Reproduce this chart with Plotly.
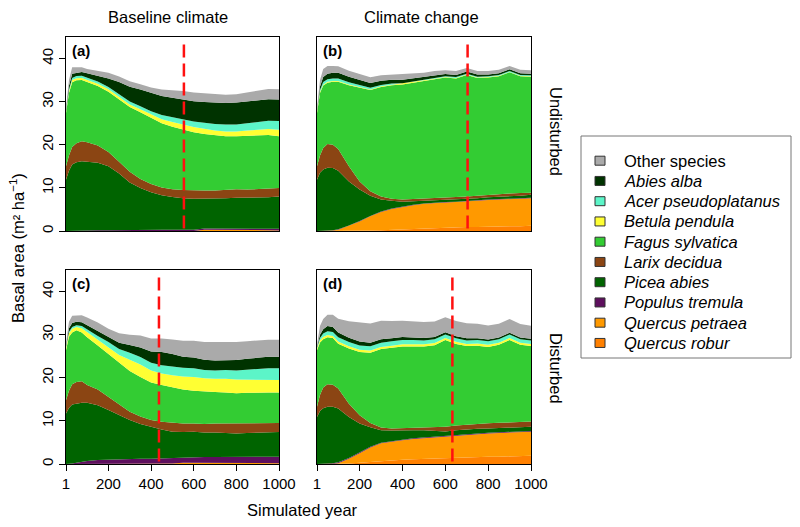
import plotly.graph_objects as go

# The page shows the figure with the browser's 8px body margin,
# so the figure is drawn 8px smaller and all pixel positions shifted by 8.
OFF = 8
W, H = 800 - OFF, 527 - OFF

YEARS = [1, 15, 30, 50, 75, 100, 150, 200, 250, 300, 350, 400, 450, 500,
         550, 600, 650, 700, 750, 800, 850, 900, 950, 1000]

SPECIES = ["Quercus robur", "Quercus petraea", "Populus tremula", "Picea abies",
           "Larix decidua", "Fagus sylvatica", "Betula pendula",
           "Acer pseudoplatanus", "Abies alba", "Other species"]
COLORS = ["#FF8000", "#FF9900", "#5E0F5E", "#006400", "#8B4513",
          "#33CC33", "#FFFF33", "#5CF5C8", "#003300", "#AAAAAA"]

# ---- (a) Baseline climate, undisturbed ----
QR_a = [0] * 24
QP_a = [0] * 16 + [0.3, 0.3, 0.3, 0.3, 0.3, 0.3, 0.2, 0.1]
PT_a = [0, 0, 0, 0.05, 0.1, 0.1, 0.15, 0.2, 0.25, 0.25, 0.25, 0.3, 0.3, 0.3, 0.3, 0.3, 0.3, 0.3, 0.3, 0.3, 0.3, 0.3, 0.35, 0.4]
PA_a = [11.9, 14.0, 15.4, 15.9, 16.1, 16.0, 15.7, 14.8, 13.1, 11.0, 9.7, 8.7, 8.0, 7.6, 7.3, 7.2, 6.9, 6.9, 7.0, 7.1, 7.1, 7.2, 7.3, 7.5]
LD_a = [3.1, 3.5, 4.1, 4.4, 4.6, 4.5, 4.0, 3.3, 2.7, 2.5, 2.1, 1.9, 1.8, 1.8, 1.9, 1.9, 1.9, 1.9, 1.9, 2.0, 1.9, 1.9, 2.0, 2.0]
FS_a = [12.4, 14.5, 15.0, 14.6, 14.2, 14.0, 13.8, 14.0, 14.5, 15.0, 15.5, 15.4, 14.9, 14.5, 14.0, 13.5, 13.1, 12.8, 12.5, 12.3, 12.5, 12.5, 12.4, 12.0]
BP_a = [0.2, 0.4, 0.5, 0.5, 0.5, 0.5, 0.5, 0.6, 0.6, 0.6, 0.7, 0.7, 0.9, 1.1, 1.2, 1.2, 1.2, 1.1, 1.1, 1.1, 1.2, 1.3, 1.4, 1.5]
AP_a = [0.2, 0.4, 0.5, 0.5, 0.5, 0.5, 0.5, 0.5, 0.6, 0.7, 0.7, 0.8, 1.0, 1.1, 1.2, 1.3, 1.4, 1.5, 1.6, 1.6, 1.7, 1.8, 1.9, 2.0]
AA_a = [0.3, 0.9, 1.0, 0.8, 0.9, 1.0, 1.4, 2.0, 2.8, 3.4, 3.9, 4.3, 4.4, 4.5, 4.6, 4.7, 4.8, 5.0, 5.0, 5.1, 5.0, 4.9, 5.0, 5.0]
OS_a = [0.4, 1.3, 1.5, 1.3, 1.1, 1.0, 1.1, 1.3, 1.3, 1.3, 1.2, 1.2, 1.5, 1.8, 2.0, 2.0, 2.0, 2.0, 1.9, 1.9, 2.1, 2.3, 2.4, 2.4]

# ---- (b) Climate change, undisturbed ----
QR_b = [0, 0, 0, 0, 0, 0, 0, 0.05, 0.1, 0.2, 0.3, 0.4, 0.5, 0.6, 0.7, 0.8, 0.8, 0.9, 0.9, 1.0, 1.0, 1.1, 1.1, 1.2]
QP_b = [0, 0, 0, 0, 0.1, 0.3, 1.2, 2.15, 3.3, 4.2, 4.8, 5.2, 5.5, 5.7, 5.8, 5.8, 5.9, 6.0, 6.1, 6.2, 6.3, 6.3, 6.4, 6.4]
PT_b = [0, 0, 0.05, 0.1, 0.1, 0.1, 0.1, 0.1, 0.1, 0.1, 0.1, 0.1, 0.1, 0.1, 0.1, 0.1, 0.1, 0.1, 0.1, 0.1, 0.1, 0.1, 0.1, 0.1]
PA_b = [11.9, 13.5, 14.2, 14.6, 14.4, 13.6, 10.2, 7.3, 4.7, 2.8, 1.8, 1.1, 0.8, 0.6, 0.5, 0.6, 0.6, 0.5, 0.5, 0.5, 0.5, 0.6, 0.6, 0.7]
LD_b = [3.1, 4.0, 5.0, 5.5, 5.4, 5.0, 3.5, 1.9, 1.0, 0.7, 0.5, 0.5, 0.5, 0.5, 0.5, 0.5, 0.5, 0.5, 0.6, 0.6, 0.6, 0.6, 0.6, 0.5]
FS_b = [12.4, 14.5, 14.5, 14.2, 14.6, 15.6, 18.8, 21.7, 23.5, 25.4, 26.3, 26.7, 27.0, 27.3, 27.6, 27.8, 27.5, 28.2, 27.3, 27.2, 27.4, 28.1, 27.1, 26.9]
BP_b = [0.3, 0.3, 0.2, 0.2, 0.2, 0.2, 0.2, 0.2, 0.15, 0.15, 0.1, 0.1, 0.1, 0.1, 0.1, 0.1, 0.1, 0.1, 0.1, 0.1, 0.1, 0.1, 0.1, 0.1]
AP_b = [0.2, 0.4, 0.6, 0.6, 0.6, 0.6, 0.5, 0.5, 0.4, 0.3, 0.3, 0.2, 0.2, 0.2, 0.2, 0.2, 0.2, 0.2, 0.2, 0.2, 0.2, 0.2, 0.2, 0.2]
AA_b = [0.2, 0.8, 1.2, 1.3, 1.3, 1.3, 1.3, 1.2, 1.1, 1.0, 0.9, 0.8, 0.7, 0.6, 0.6, 0.5, 0.5, 0.5, 0.5, 0.4, 0.4, 0.4, 0.4, 0.4]
OS_b = [0.5, 1.5, 1.8, 1.8, 1.6, 1.5, 1.4, 1.3, 1.3, 1.3, 1.2, 1.2, 1.1, 1.0, 1.0, 0.9, 0.9, 0.8, 0.8, 0.8, 0.8, 0.8, 0.8, 0.8]

# ---- (c) Baseline climate, disturbed ----
QR_c = [0] * 24
QP_c = [0] * 13 + [0.1, 0.3, 0.3, 0.3, 0.3, 0.3, 0.3, 0.3, 0.3, 0.2, 0.2]
PT_c = [0, 0, 0.1, 0.3, 0.5, 0.7, 0.9, 1.0, 1.1, 1.1, 1.2, 1.2, 1.3, 1.2, 1.2, 1.2, 1.3, 1.3, 1.3, 1.3, 1.4, 1.4, 1.5, 1.5]
PA_c = [11.7, 13.0, 13.7, 13.7, 13.7, 13.5, 12.7, 11.5, 10.2, 9.1, 8.1, 7.4, 6.7, 6.2, 5.9, 6.0, 5.7, 5.7, 5.6, 5.5, 5.5, 5.6, 5.6, 5.7]
LD_c = [3.1, 4.0, 4.7, 5.0, 5.0, 4.1, 3.7, 3.1, 2.5, 1.9, 1.7, 1.6, 1.8, 2.1, 2.0, 1.9, 2.0, 2.1, 2.2, 2.4, 2.3, 2.1, 2.1, 2.1]
FS_c = [11.6, 12.5, 12.0, 12.0, 11.3, 11.1, 10.2, 9.9, 9.6, 9.5, 9.2, 8.7, 8.5, 8.2, 7.9, 7.6, 7.5, 7.3, 7.2, 6.9, 7.0, 7.2, 7.2, 7.1]
BP_c = [0.5, 0.8, 0.9, 0.8, 1.0, 1.2, 1.4, 1.6, 1.9, 2.6, 2.9, 2.8, 2.7, 2.8, 3.0, 3.2, 3.1, 3.1, 3.2, 3.2, 3.1, 3.0, 3.0, 2.9]
AP_c = [0.3, 0.4, 0.4, 0.4, 0.5, 0.6, 0.8, 1.2, 1.4, 1.6, 1.7, 1.8, 1.9, 2.0, 2.0, 2.0, 1.9, 1.9, 2.0, 2.1, 2.3, 2.5, 2.6, 2.7]
AA_c = [0.3, 0.8, 0.9, 0.8, 0.9, 1.0, 1.1, 1.1, 1.4, 1.8, 2.2, 2.6, 3.1, 2.9, 2.6, 2.5, 2.4, 2.3, 2.3, 2.4, 2.5, 2.6, 2.7, 2.7]
OS_c = [0.5, 1.5, 1.7, 1.5, 1.6, 1.8, 2.0, 2.0, 2.2, 2.4, 2.8, 3.0, 3.1, 3.4, 3.7, 3.9, 4.1, 4.3, 4.2, 4.2, 4.1, 4.0, 3.9, 3.9]

# ---- (d) Climate change, disturbed ----
QR_d = [0, 0, 0, 0, 0, 0, 0.1, 0.3, 0.5, 0.7, 0.9, 1.0, 1.1, 1.2, 1.3, 1.4, 1.5, 1.6, 1.6, 1.7, 1.7, 1.8, 1.8, 1.9]
QP_d = [0, 0, 0, 0, 0.05, 0.2, 1.1, 2.2, 3.3, 4.1, 4.3, 4.5, 4.7, 4.8, 4.9, 4.9, 5.0, 5.1, 5.3, 5.4, 5.5, 5.5, 5.6, 5.6]
PT_d = [0, 0, 0.05, 0.1, 0.15, 0.2, 0.2, 0.2, 0.2, 0.15, 0.15, 0.15, 0.15, 0.15, 0.15, 0.15, 0.15, 0.15, 0.15, 0.15, 0.15, 0.15, 0.15, 0.15]
PA_d = [10.9, 12.3, 12.9, 13.2, 13.1, 12.5, 9.5, 6.7, 4.5, 2.9, 2.4, 2.2, 1.9, 1.7, 1.4, 1.1, 1.2, 1.2, 1.1, 1.0, 1.0, 1.0, 1.0, 1.0]
LD_d = [2.4, 3.7, 4.8, 5.2, 5.1, 4.6, 3.1, 1.9, 1.0, 0.6, 0.5, 0.5, 0.6, 0.7, 0.8, 1.1, 1.1, 1.1, 1.1, 1.2, 1.2, 1.2, 1.2, 1.2]
FS_d = [13.1, 12.2, 11.2, 10.9, 10.8, 10.4, 12.8, 14.7, 16.3, 18.2, 18.7, 18.9, 18.8, 18.7, 19.0, 20.1, 18.9, 18.2, 18.2, 17.7, 18.1, 19.1, 17.9, 17.5]
BP_d = [0.4, 0.5, 0.5, 0.5, 0.5, 0.5, 0.5, 0.5, 0.5, 0.5, 0.5, 0.5, 0.5, 0.5, 0.5, 0.5, 0.5, 0.5, 0.5, 0.5, 0.5, 0.5, 0.5, 0.5]
AP_d = [0.2, 0.5, 0.8, 0.9, 0.9, 1.0, 1.0, 1.0, 1.0, 1.0, 1.0, 1.0, 1.0, 0.9, 0.9, 0.8, 0.8, 0.8, 0.8, 0.8, 0.8, 0.8, 0.8, 0.8]
AA_d = [0.2, 0.8, 1.0, 1.2, 1.2, 1.1, 1.0, 0.9, 0.8, 0.8, 0.7, 0.7, 0.6, 0.6, 0.5, 0.5, 0.5, 0.5, 0.4, 0.4, 0.4, 0.4, 0.4, 0.4]
OS_d = [0.5, 2.0, 2.4, 2.6, 2.8, 3.2, 3.8, 4.5, 4.5, 4.3, 4.0, 3.8, 3.8, 3.7, 3.6, 3.5, 3.5, 3.5, 3.4, 3.3, 3.2, 3.2, 3.1, 3.0]

PANELS = [
    ("a", "", [QR_a, QP_a, PT_a, PA_a, LD_a, FS_a, BP_a, AP_a, AA_a, OS_a], 554),
    ("b", "2", [QR_b, QP_b, PT_b, PA_b, LD_b, FS_b, BP_b, AP_b, AA_b, OS_b], 704),
    ("c", "3", [QR_c, QP_c, PT_c, PA_c, LD_c, FS_c, BP_c, AP_c, AA_c, OS_c], 437),
    ("d", "4", [QR_d, QP_d, PT_d, PA_d, LD_d, FS_d, BP_d, AP_d, AA_d, OS_d], 633),
]

COL_TITLES = ["Baseline climate", "Climate change"]
ROW_TITLES = ["Undisturbed", "Disturbed"]
X_TICKS = [1, 200, 400, 600, 800, 1000]
Y_TICKS = [0, 10, 20, 30, 40]

FONT = "Liberation Sans, Arial, sans-serif"


def px(x):
    return (x - OFF) / W


def py(y):
    return 1 - (y - OFF) / H


# panel boxes in screen pixels: (left, right, top, bottom)
BOXES = {"a": (66, 279, 37, 231), "b": (317, 531, 37, 231),
         "c": (66, 279, 270, 464), "d": (317, 531, 270, 464)}

fig = go.Figure()
shapes = []
annotations = []
layout_axes = {}

for label, sfx, series, vline in PANELS:
    xa, ya = "x" + sfx, "y" + sfx
    for name, color, vals in zip(SPECIES, COLORS, series):
        fig.add_trace(go.Scatter(
            x=YEARS, y=vals, stackgroup=label, mode="lines",
            line=dict(width=0), fillcolor=color, showlegend=False,
            hoverinfo="skip", xaxis=xa, yaxis=ya))
    l, r, t, b = BOXES[label]
    bottom_row = label in ("c", "d")
    left_col = label in ("a", "c")
    layout_axes["xaxis" + sfx] = dict(
        domain=[px(l), px(r)], range=[1, 1000], anchor=ya, automargin=False,
        showline=True, mirror=True, linecolor="black", linewidth=1,
        showgrid=False, zeroline=False,
        tickvals=X_TICKS, ticks="outside" if bottom_row else "",
        ticklen=6, tickcolor="black", showticklabels=bottom_row,
        tickfont=dict(size=15, color="black", family=FONT))
    layout_axes["yaxis" + sfx] = dict(
        domain=[py(b), py(t)], range=[0, 45], anchor=xa, automargin=False,
        showline=True, mirror=True, linecolor="black", linewidth=1,
        showgrid=False, zeroline=False,
        tickvals=Y_TICKS, ticks="outside" if left_col else "",
        ticklen=6, tickcolor="black", showticklabels=left_col,
        tickangle=-90,
        tickfont=dict(size=15, color="black", family=FONT))
    shapes.append(dict(type="line", xref=xa, yref=ya, x0=vline, x1=vline,
                       y0=0.6, y1=43.6, layer="above",
                       line=dict(color="#FF1010", width=2.5, dash="13px,6px")))
    annotations.append(dict(text="<b>(%s)</b>" % label, xref="paper", yref="paper",
                            x=px(l + 4), y=py(t + 3), xanchor="left", yanchor="top",
                            showarrow=False,
                            font=dict(size=15, color="black", family=FONT)))

# ---- legend drawn as box + square keys + text ----
LEG_L, LEG_R, LEG_T, LEG_B = 581, 791, 136, 358
shapes.append(dict(type="rect", xref="paper", yref="paper",
                   x0=px(LEG_L), x1=px(LEG_R), y0=py(LEG_B), y1=py(LEG_T),
                   line=dict(color="#777777", width=1), fillcolor="white",
                   layer="below"))
row0, step = 160.7, 20.25
for i, (name, color) in enumerate(list(zip(SPECIES, COLORS))[::-1]):
    yc = row0 + i * step
    shapes.append(dict(type="rect", xref="paper", yref="paper",
                       x0=px(595), x1=px(605), y0=py(yc + 4.5), y1=py(yc - 4.5),
                       line=dict(color="#333333", width=1), fillcolor=color))
    disp = name if name == "Other species" else "<i>%s</i>" % name
    annotations.append(dict(text=disp, xref="paper", yref="paper",
                            x=px(622), y=py(yc), xanchor="left", yanchor="middle",
                            showarrow=False,
                            font=dict(size=16.5, color="black", family=FONT)))

TF = dict(size=16.5, color="black", family=FONT)
annotations += [
    dict(text=COL_TITLES[0], x=px(168), y=py(17), xref="paper", yref="paper",
         xanchor="center", yanchor="middle", showarrow=False, font=TF),
    dict(text=COL_TITLES[1], x=px(421), y=py(17), xref="paper", yref="paper",
         xanchor="center", yanchor="middle", showarrow=False, font=TF),
    dict(text=ROW_TITLES[0], x=px(556), y=py(131), xref="paper", yref="paper",
         xanchor="center", yanchor="middle", textangle=90, showarrow=False, font=TF),
    dict(text=ROW_TITLES[1], x=px(556), y=py(368), xref="paper", yref="paper",
         xanchor="center", yanchor="middle", textangle=90, showarrow=False, font=TF),
    dict(text="Basal area (m² ha<sup>−1</sup>)", x=px(17), y=py(248),
         xref="paper", yref="paper", xanchor="center", yanchor="middle",
         textangle=-90, showarrow=False, font=TF),
    dict(text="Simulated year", x=px(302), y=py(510), xref="paper", yref="paper",
         xanchor="center", yanchor="middle", showarrow=False, font=TF),
]

fig.update_layout(
    width=W, height=H, margin=dict(l=0, r=0, t=0, b=0, autoexpand=False),
    template="none",
    paper_bgcolor="white", plot_bgcolor="white",
    shapes=shapes, annotations=annotations,
    showlegend=False,
    font=dict(family=FONT, color="black"),
    **layout_axes,
)

fig.write_html("out.html")
